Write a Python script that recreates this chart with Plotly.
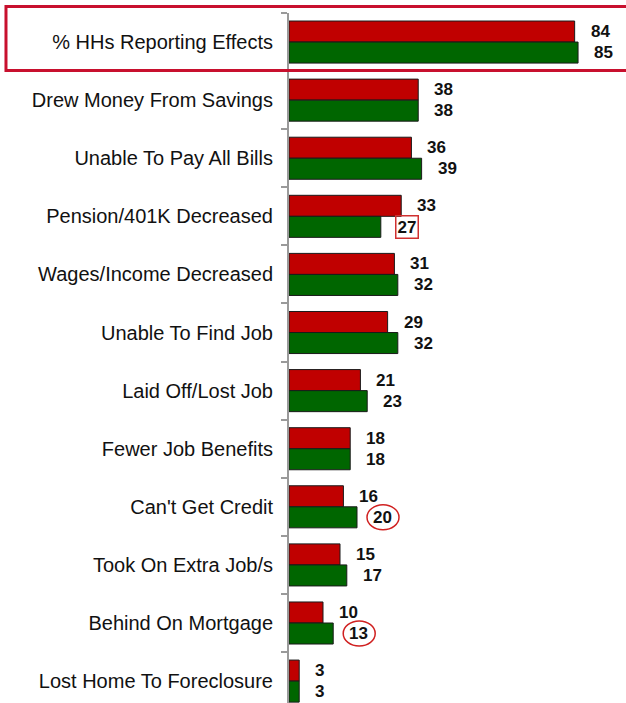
import plotly.graph_objects as go

categories = ["% HHs Reporting Effects", "Drew Money From Savings", "Unable To Pay All Bills",
              "Pension/401K Decreased", "Wages/Income Decreased", "Unable To Find Job",
              "Laid Off/Lost Job", "Fewer Job Benefits", "Can't Get Credit",
              "Took On Extra Job/s", "Behind On Mortgage", "Lost Home To Foreclosure"]
red_values = [84, 38, 36, 33, 31, 29, 21, 18, 16, 15, 10, 3]
green_values = [85, 38, 39, 27, 32, 32, 23, 18, 20, 17, 13, 3]
boxed_green = ["Pension/401K Decreased"]
circled_green = ["Can't Get Credit", "Behind On Mortgage"]

RED = "#C00000"
GREEN = "#006600"
LABEL_FONT = "Liberation Sans"

fig = go.Figure()
fig.add_trace(go.Bar(y=categories, x=red_values, orientation="h", marker=dict(color=RED, line=dict(color="#1a1a1a", width=1)), showlegend=False, hoverinfo="skip"))
fig.add_trace(go.Bar(y=categories, x=green_values, orientation="h", marker=dict(color=GREEN, line=dict(color="#1a1a1a", width=1)), showlegend=False, hoverinfo="skip"))

annotations = []
for c, v in zip(categories, red_values):
    annotations.append(dict(x=v, y=c, xref="x", yref="y", text=str(v), showarrow=False,
                            xanchor="left", yanchor="middle", xshift=14, yshift=10.5,
                            font=dict(family=LABEL_FONT, size=17, color="#111111", weight="bold")))
for c, v in zip(categories, green_values):
    a = dict(x=v, y=c, xref="x", yref="y", text=str(v), showarrow=False,
             xanchor="left", yanchor="middle", xshift=14, yshift=-10.5,
             font=dict(family=LABEL_FONT, size=17, color="#111111", weight="bold"))
    if c in boxed_green:
        a.update(bordercolor="#d03030", borderwidth=1.5, borderpad=1)
    annotations.append(a)

shapes = []
for c in circled_green:
    v = green_values[categories.index(c)]
    shapes.append(dict(type="circle", xref="x", yref="y", xsizemode="pixel", ysizemode="pixel",
                       xanchor=v, yanchor=categories.index(c), x0=10, x1=42, y0=-23, y1=2,
                       line=dict(color="#d02020", width=1.5)))
# highlight box around first row
shapes.append(dict(type="rect", xref="paper", yref="paper", x0=-0.8398, x1=1.05, y0=0.9167, y1=1.0094,
                   line=dict(color="#c8102e", width=3), layer="above"))

fig.update_layout(
    width=626, height=703,
    margin=dict(l=289, r=0, t=13, b=0),
    plot_bgcolor="white", paper_bgcolor="white",
    barmode="group", bargap=0.276, bargroupgap=0,
    annotations=annotations, shapes=shapes,
    xaxis=dict(range=[0, 99.1], visible=False, fixedrange=True),
    yaxis=dict(range=[11.377, -0.5], showline=True, linecolor="#9a9a9a", linewidth=2,
               ticks="outside", tickson="boundaries", ticklen=6, tickcolor="#9a9a9a", tickwidth=2,
               ticklabelstandoff=10, showgrid=False, zeroline=False, fixedrange=True,
               tickfont=dict(family=LABEL_FONT, size=20, color="#111111")),
)
fig.write_html("out.html", config={"displayModeBar": False},
               post_script="document.body.style.margin='0';document.body.style.overflow='hidden';")
